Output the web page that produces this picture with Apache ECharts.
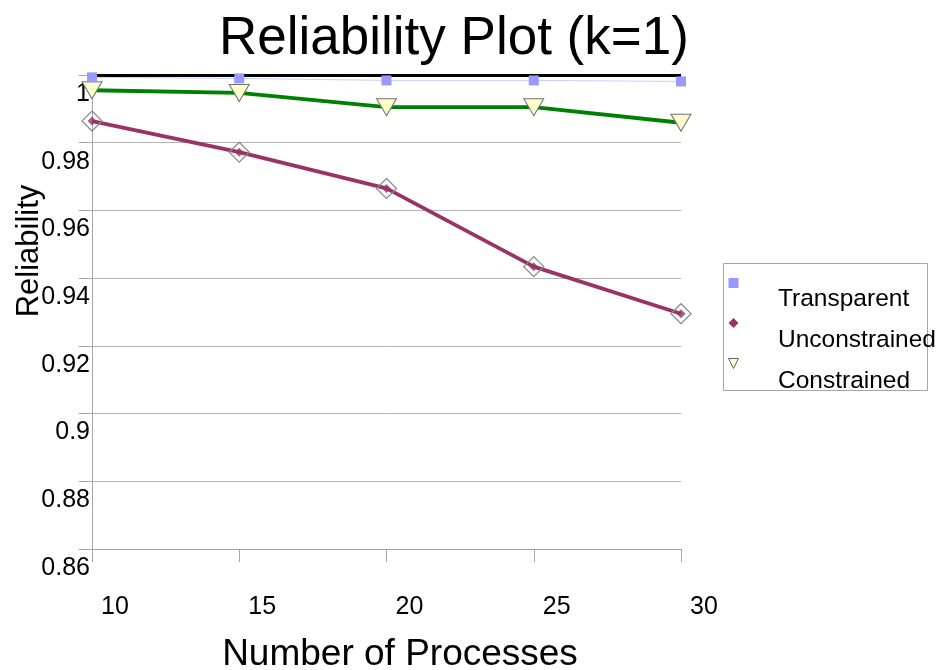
<!DOCTYPE html>
<html>
<head>
<meta charset="utf-8">
<title>Reliability Plot (k=1)</title>
<script src="https://cdn.jsdelivr.net/npm/echarts@6/dist/echarts.min.js"></script>
<style>
  html, body { margin: 0; padding: 0; background: #ffffff; }
  #chart { width: 942px; height: 670px; }
</style>
</head>
<body>
<div id="chart"></div>
<script>
// Number of processes on the x axis
const processes = [10, 15, 20, 25, 30];

// Reliability for each strategy
const transparent   = [0.9993, 0.9990, 0.9984, 0.9984, 0.9981];
const unconstrained = [0.9864, 0.9772, 0.9665, 0.9434, 0.9295];
const constrained   = [0.9955, 0.9947, 0.9905, 0.9905, 0.9859];

const seriesNames = ['Transparent', 'Unconstrained', 'Constrained'];

const FONT = '"Liberation Sans", Arial, Helvetica, sans-serif';
const pairs = (ys) => processes.map((x, i) => [x, ys[i]]);

const chart = echarts.init(document.getElementById('chart'), null, { renderer: 'canvas' });

const legendIcons = [
  { name: seriesNames[0], icon: 'rect', itemStyle: { color: '#9999ff', borderWidth: 0 } },
  { name: seriesNames[1], icon: 'diamond', itemStyle: { color: '#993366', borderWidth: 0 } },
  { name: seriesNames[2], icon: 'path://M0,0 L10,0 L5,10 Z', itemStyle: { color: '#ffffcc', borderColor: '#666', borderWidth: 1 } }
];

chart.setOption({
  backgroundColor: '#ffffff',
  animation: false,
  title: {
    text: 'Reliability Plot (k=1)',
    left: 214,
    top: 8,
    textStyle: { fontFamily: FONT, fontSize: 53, fontWeight: 'normal', color: '#000' }
  },
  grid: {
    left: 92, right: 261, top: 75, bottom: 121,
    containLabel: false,
    outerBoundsMode: 'none'
  },
  legend: [
    {
      // markers column
      orient: 'vertical',
      left: 728,
      top: 278,
      itemWidth: 10,
      itemHeight: 10,
      itemGap: 30,
      padding: 0,
      data: legendIcons,
      formatter: () => '',
      textStyle: { fontSize: 8, lineHeight: 10 }
    },
    {
      // names column, set a little lower than the markers
      orient: 'vertical',
      left: 772,
      top: 287,
      itemWidth: 1,
      itemHeight: 24,
      itemGap: 16,
      padding: 0,
      data: seriesNames.map((n) => ({ name: n, icon: 'none' })),
      textStyle: { fontFamily: FONT, fontSize: 24.5, lineHeight: 24, color: '#000' }
    }
  ],
  graphic: [{
    type: 'rect',
    left: 721, top: 261,
    shape: { width: 204, height: 127 },
    style: { fill: 'none', stroke: '#a6a6a6', lineWidth: 1 },
    z: -1
  }],
  xAxis: {
    type: 'value',
    min: 10, max: 30, interval: 5,
    name: 'Number of Processes',
    nameLocation: 'middle',
    nameGap: 87,
    nameTextStyle: { fontFamily: FONT, fontSize: 37, color: '#000', padding: [0, 0, 0, 27] },
    axisLine: { show: true, lineStyle: { color: '#a6a6a6', width: 1 } },
    axisTick: { show: true, length: 13, lineStyle: { color: '#a6a6a6', width: 1 } },
    axisLabel: {
      fontFamily: FONT, fontSize: 25, color: '#000',
      margin: 46, padding: [0, 0, 0, 46]
    },
    splitLine: { show: false }
  },
  yAxis: {
    type: 'value',
    min: 0.86, max: 1, interval: 0.02,
    name: 'Reliability',
    nameLocation: 'middle',
    nameRotate: 90,
    nameGap: 47,
    nameMoveOverlap: false,
    nameTextStyle: { fontFamily: FONT, fontSize: 31, color: '#000', padding: [0, 0, 0, 122] },
    axisLine: { show: true, lineStyle: { color: '#a6a6a6', width: 1 } },
    axisTick: { show: true, length: 13, lineStyle: { color: '#a6a6a6', width: 1 } },
    axisLabel: {
      fontFamily: FONT, fontSize: 25, color: '#000',
      margin: 2, verticalAlign: 'top', lineHeight: 28, padding: [5, 0, 0, 0]
    },
    splitLine: { show: true, lineStyle: { color: '#b3b3b3', width: 1 } }
  },
  series: [
    {
      name: seriesNames[0],
      type: 'line',
      data: pairs(transparent),
      symbol: 'rect',
      symbolSize: 10,
      itemStyle: { color: '#9999ff' },
      lineStyle: { color: '#ccccff', width: 1 },
      z: 6
    },
    {
      name: seriesNames[1],
      type: 'line',
      data: pairs(unconstrained),
      symbol: 'diamond',
      symbolSize: 20,
      itemStyle: { color: 'rgba(255,255,255,0)', borderColor: '#8c8c8c', borderWidth: 1.3 },
      lineStyle: { color: '#993366', width: 3.8 },
      z: 3,
      // heavy rule along the top of the plot at reliability 1
      markLine: {
        silent: true,
        symbol: 'none',
        label: { show: false },
        lineStyle: { color: '#000', width: 3, type: 'solid' },
        data: [{ yAxis: 1 }]
      }
    },
    {
      // solid centre of the unconstrained markers
      name: seriesNames[1],
      type: 'scatter',
      data: pairs(unconstrained),
      symbol: 'diamond',
      symbolSize: 9,
      itemStyle: { color: '#993366' },
      z: 4
    },
    {
      name: seriesNames[2],
      type: 'line',
      data: pairs(constrained),
      symbol: 'triangle',
      symbolRotate: 180,
      symbolSize: [20, 17],
      itemStyle: { color: '#ffffcc', borderColor: '#707070', borderWidth: 1 },
      lineStyle: { color: '#008000', width: 3.8 },
      z: 5
    }
  ]
});
</script>
</body>
</html>
